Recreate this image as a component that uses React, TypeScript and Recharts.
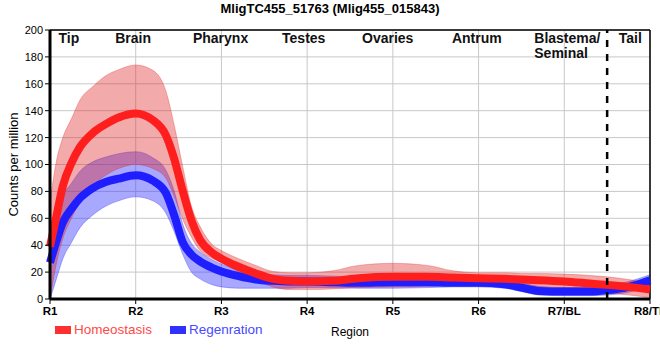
import React from 'react';
import { ComposedChart, Area, Line, XAxis, YAxis, CartesianGrid, ReferenceLine } from 'recharts';

const positions = [0, 0.07, 0.15, 0.25, 0.35, 0.5, 0.65, 0.8, 1.0, 1.2, 1.35, 1.45, 1.55, 1.65, 1.75, 1.9, 2.0, 2.2, 2.4, 2.6, 2.8, 3.0, 3.3, 3.6, 4.0, 4.4, 4.7, 5.0, 5.3, 5.5, 5.7, 6.0, 6.3, 6.5, 6.75, 7.0];

const homeoMean = [39, 60, 84, 101, 113, 123.5, 130, 135, 138, 133, 122, 104, 80, 58.5, 44, 34, 30, 24, 19, 15, 13.5, 13, 13.5, 15.5, 16.5, 16.5, 16, 15.5, 15, 14.5, 14, 13, 11.5, 10.5, 9, 7];
const homeoHigh = [72, 101, 120, 134, 148, 158, 166, 170.5, 174, 170, 155, 129, 98, 69, 54, 40, 36, 30, 25, 20.5, 19.5, 19.5, 21, 25, 26.5, 25, 21, 19.5, 19.5, 19, 19, 18.5, 17.5, 16.5, 14.5, 12];
const homeoLow = [0, 25, 45, 60, 72, 84, 92, 97, 100, 97, 90, 76, 59, 46, 36, 30, 27, 20, 14, 9, 7, 7, 7.5, 8.5, 9, 9.5, 10.5, 11, 10, 9, 8, 7, 6, 4.5, 3, 1];

const regenMean = [27, 42, 57, 67, 75, 82.5, 87, 89.5, 92, 88, 79, 62, 42, 33, 28, 23, 20.5, 17, 14.5, 13.5, 13, 13, 12.5, 12, 12.5, 12.5, 12, 12, 11, 8.5, 6, 5.5, 5.5, 6.5, 9, 14];
const regenHigh = [32, 55, 76, 86, 95, 102, 105.5, 108, 109.5, 105, 96, 80, 55.5, 41.5, 35, 29, 26, 21.5, 18.5, 18, 17.5, 17.5, 17, 16.5, 16.5, 16.5, 16, 15.5, 14.5, 12, 9.5, 8.5, 8.5, 10, 13, 18];
const regenLow = [0, 14, 30, 42, 53, 62.5, 69, 73, 76, 73, 64, 50, 33, 20, 15, 10.5, 9, 8, 8, 8, 8, 8.5, 8.5, 8, 8, 8.5, 9, 9, 8, 5.5, 3, 2.5, 2.5, 3, 5, 10];

const xTicks = [0, 1, 2, 3, 4, 5, 6, 7];
const xTickLabels = ['R1', 'R2', 'R3', 'R4', 'R5', 'R6', 'R7/BL', 'R8/TL'];
const yTicks = [0, 20, 40, 60, 80, 100, 120, 140, 160, 180, 200];

const regionNames = [['Tip'], ['Brain'], ['Pharynx'], ['Testes'], ['Ovaries'], ['Antrum'], ['Blastema/', 'Seminal'], ['Tail']];
const regionLabelAt = [0.22, 0.97, 1.99, 2.96, 3.94, 4.98, 5.65, 6.77];
const regionAnchor = ['middle', 'middle', 'middle', 'middle', 'middle', 'middle', 'start', 'middle'];
const splitAt = 6.5;

const data = positions.map((x, i) => ({
  x,
  hMean: homeoMean[i],
  hBand: [homeoLow[i], homeoHigh[i]],
  rMean: regenMean[i],
  rBand: [regenLow[i], regenHigh[i]],
}));

const FONT = '"Liberation Sans", Arial, sans-serif';

const RegionLabel = (props: any) => {
  const { viewBox, lines, anchor } = props;
  const x = viewBox.x;
  const y = viewBox.y;
  return (
    <text x={x} y={y + 13} textAnchor={anchor} fontWeight="bold" fontSize={14} fontFamily={FONT} fill="#111">
      {lines.map((l: string, i: number) => (
        <tspan key={i} x={x} dy={i === 0 ? 0 : 15}>{l}</tspan>
      ))}
    </text>
  );
};

const YLabel = (props: any) => {
  const { viewBox } = props;
  const cy = viewBox.y + viewBox.height / 2;
  const x = 18;
  return (
    <text x={x} y={cy} transform={`rotate(-90 ${x} ${cy})`} textAnchor="middle" fontSize={13} fontFamily={FONT} fill="#000">
      Counts per million
    </text>
  );
};

const XLabel = (props: any) => {
  const { viewBox } = props;
  return (
    <text x={viewBox.x + viewBox.width / 2} y={viewBox.y + 37} textAnchor="middle" fontSize={12} fontFamily={FONT} fill="#000">
      Region
    </text>
  );
};

export default function App() {
  return (
    <div style={{ position: 'absolute', left: 0, top: 0, width: 660, height: 360, background: '#fff', fontFamily: FONT }}>
      <div style={{ position: 'absolute', left: 0, top: 1, width: 660, textAlign: 'center', fontWeight: 'bold', fontSize: 13, lineHeight: '15px', color: '#000' }}>
        MligTC455_51763 (Mlig455_015843)
      </div>
      <ComposedChart width={660} height={360} data={data} margin={{ top: 30, right: 10, bottom: 0, left: 0 }}>
        <CartesianGrid stroke="#c8c8c8" strokeWidth={1} />
        <XAxis
          dataKey="x"
          type="number"
          domain={[0, 7]}
          ticks={xTicks}
          tickFormatter={(v: number) => xTickLabels[v]}
          height={61}
          tickSize={5}
          tickMargin={3}
          interval={0}
          axisLine={{ stroke: '#000', strokeWidth: 3 }}
          tickLine={{ stroke: '#000' }}
          tick={{ fontSize: 11.5, fontWeight: 'bold', fill: '#000', fontFamily: FONT }}
          label={<XLabel />}
        />
        <YAxis
          type="number"
          domain={[0, 200]}
          ticks={yTicks}
          width={50}
          tickSize={5}
          tickMargin={2}
          interval={0}
          axisLine={{ stroke: '#000', strokeWidth: 3 }}
          tickLine={{ stroke: '#000' }}
          tick={{ fontSize: 11, fill: '#000', fontFamily: FONT }}
          label={<YLabel />}
        />
        <ReferenceLine y={200} stroke="#000" strokeWidth={1.5} />
        <ReferenceLine x={7} stroke="#000" strokeWidth={1.5} />
        <Area dataKey="rBand" type="monotone" fill="#3030ff" fillOpacity={0.42} stroke="#3030ff" strokeOpacity={0.35} strokeWidth={1} isAnimationActive={false} />
        <Line dataKey="rMean" type="monotone" stroke="#1e1eff" strokeWidth={8} dot={false} isAnimationActive={false} />
        <Area dataKey="hBand" type="monotone" fill="#e02020" fillOpacity={0.38} stroke="#e02020" strokeOpacity={0.3} strokeWidth={1} isAnimationActive={false} />
        <Line dataKey="hMean" type="monotone" stroke="#ff1e1e" strokeWidth={8} dot={false} isAnimationActive={false} />
        <ReferenceLine x={splitAt} stroke="#000" strokeWidth={2.5} strokeDasharray="7 7" />
        {regionNames.map((lines, i) => (
          <ReferenceLine key={i} x={regionLabelAt[i]} stroke="none" label={<RegionLabel lines={lines} anchor={regionAnchor[i]} />} />
        ))}
      </ComposedChart>
      <div style={{ position: 'absolute', left: 55, top: 326, width: 16, height: 8, background: '#ff3030' }} />
      <div style={{ position: 'absolute', left: 74, top: 321.5, fontSize: 13.5, lineHeight: '16px', color: '#ff4848' }}>Homeostasis</div>
      <div style={{ position: 'absolute', left: 170, top: 326, width: 16, height: 8, background: '#3030ff' }} />
      <div style={{ position: 'absolute', left: 189, top: 321.5, fontSize: 13.5, lineHeight: '16px', color: '#4848ff' }}>Regenration</div>
    </div>
  );
}
